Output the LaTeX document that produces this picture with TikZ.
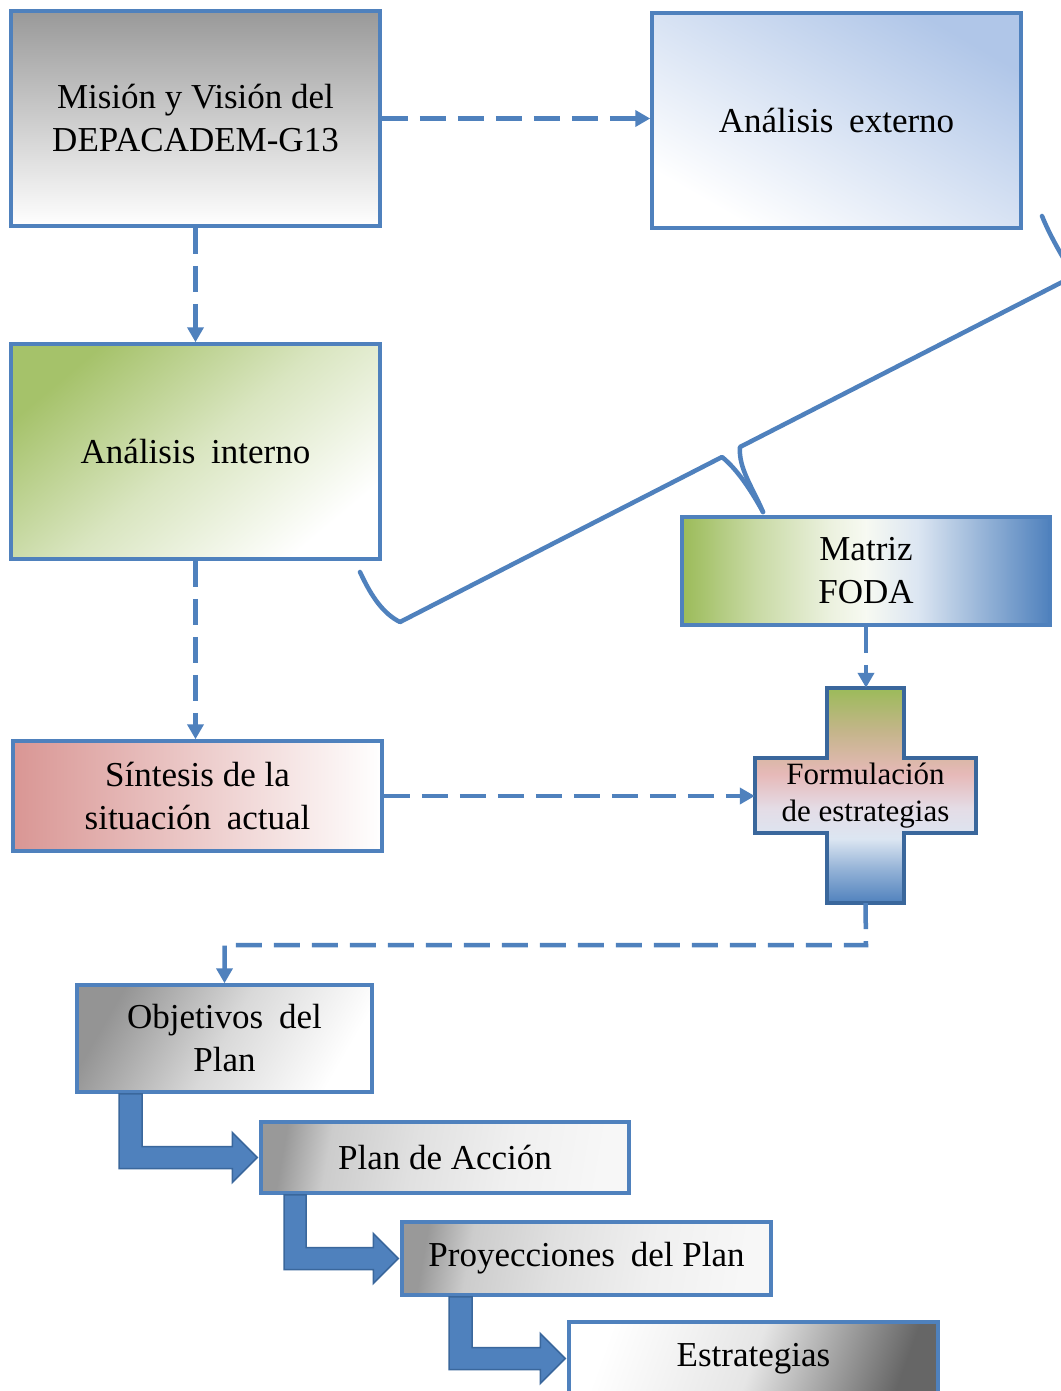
\documentclass[tikz,border=0pt]{standalone}
\usepackage{fontspec}
\setmainfont{LiberationSerif-Regular.ttf}
\usetikzlibrary{arrows.meta,calc}
\definecolor{bl}{HTML}{4F81BD}
\definecolor{bldark}{HTML}{3A679C}
\definecolor{gr}{HTML}{9BBB59}
\definecolor{grl}{HTML}{EBF1DE}
\definecolor{bll}{HTML}{DCE6F2}
\definecolor{blm}{HTML}{95B3D7}
\definecolor{pk}{HTML}{E6B9B8}
\definecolor{rd}{HTML}{D99694}
\definecolor{lav}{HTML}{E4DCE6}
\definecolor{tan}{HTML}{C4B58A}
\definecolor{extb}{HTML}{B0C6E8}
\pgfdeclarehorizontalshading{fodashade}{100bp}{color(0bp)=(gr); color(25bp)=(gr); color(35bp)=(gr!55!white); color(45bp)=(grl); color(50bp)=(white!92!gr); color(57bp)=(bll); color(66bp)=(blm); color(75bp)=(bl); color(100bp)=(bl)}
\pgfdeclareverticalshading{crossshade}{100bp}{color(0bp)=(bl); color(25bp)=(bl); color(33bp)=(blm); color(40bp)=(bll); color(47bp)=(lav); color(55bp)=(pk); color(65bp)=(tan); color(75bp)=(gr); color(100bp)=(gr)}
\pgfdeclarehorizontalshading{stepshade}{100bp}{color(0bp)=(black!40); color(25bp)=(black!40); color(32bp)=(black!20); color(45bp)=(black!12); color(60bp)=(black!6); color(75bp)=(black!3); color(100bp)=(black!3)}
\tikzset{
  box/.style={rectangle, draw=bl, line width=3.5pt, inner sep=0pt, align=center,
    text=black, font=\fontsize{35}{43}\selectfont},
  ghost/.style={rectangle, inner sep=0pt},
  dasharrow/.style={draw=bl, line width=4.5pt, dash pattern=on 26pt off 12pt,
    -{Triangle[length=15pt,width=16pt]}},
  bentstyle/.style={fill=bl, draw=bldark, line width=1.5pt, line join=miter},
  bracestyle/.style={draw=bl, line width=4.5pt, line join=round, line cap=round}
}
\newcommand\bentarr[4]{%
  \path[bentstyle] let \p1=(#1.south), \p2=(#2.west) in
    (#3pt,\y1) -- (#4pt,\y1) -- (#4pt,\y2+11pt) -- (\x2-27pt,\y2+11pt)
    -- (\x2-27pt,\y2+25pt) -- (\x2-2pt,\y2) -- (\x2-27pt,\y2-25pt)
    -- (\x2-27pt,\y2-11pt) -- (#3pt,\y2-11pt) -- cycle;}
\newcommand\wsp{\hspace{0.45em}}
\begin{document}
\begin{tikzpicture}[x=1pt,y=-1pt]
\useasboundingbox (0,0) rectangle (1060,1391);
\fill[white] (0,0) rectangle (1060,1391);

% boxes
\node[box, minimum width=369pt, minimum height=215pt,
  top color=black!40, bottom color=white] (mision) at (195.5,118.5)
  {Misión y Visión del\\DEPACADEM-G13};
\node[box, minimum width=369pt, minimum height=215pt,
  top color=extb, bottom color=white, middle color=extb!50!white, shading angle=-30] (externo) at (836.5,120.5)
  {Análisis\wsp externo};
\node[box, minimum width=369pt, minimum height=215pt,
  top color=gr!90!white, bottom color=white, middle color=gr!38!white, shading angle=40] (interno) at (195.5,451.5)
  {Análisis\wsp interno};
\node[box, minimum width=368pt, minimum height=108pt,
  shading=fodashade] (foda) at (866,571) {Matriz\\FODA};
\node[box, minimum width=369pt, minimum height=110pt,
  left color=rd, right color=white] (sintesis) at (197.5,796)
  {Síntesis de la\\situación\wsp actual};

% cross
\node[ghost, minimum width=77pt, minimum height=215pt] (crossv) at (865.5,795.5) {};
\node[ghost, minimum width=221pt, minimum height=75pt] (crossh) at (865.5,795.5) {};
\path[shading=crossshade, shade, draw=bldark, line width=3.5pt, line join=miter]
  (crossv.north west) -- (crossv.north east) -- (crossv.east |- crossh.north)
  -- (crossh.north east) -- (crossh.south east) -- (crossv.east |- crossh.south)
  -- (crossv.south east) -- (crossv.south west) -- (crossv.west |- crossh.south)
  -- (crossh.south west) -- (crossh.north west) -- (crossv.west |- crossh.north) -- cycle;
\node[align=center, inner sep=0pt, font=\fontsize{31}{37}\selectfont] (cross) at (865.5,795.5)
  {Formulación\\de estrategias};

\node[box, minimum width=295pt, minimum height=107pt,
  top color=black!42, bottom color=white, middle color=black!15, shading angle=60] (objetivos) at (224.5,1038.5)
  {Objetivos\wsp del\\Plan};
\node[box, minimum width=368pt, minimum height=71pt,
  shading=stepshade, shading angle=-10] (plan) at (445,1157.5)
  {Plan de Acción};
\node[box, minimum width=369pt, minimum height=73pt,
  shading=stepshade, shading angle=-10] (proy) at (586.5,1258.5)
  {Proyecciones\wsp del Plan};
\node[box, minimum width=369pt, minimum height=73pt,
  top color=black!60, bottom color=white, middle color=black!10, shading angle=-110] (estr) at (753.5,1358.5)
  {Estrategias};

% dashed connectors
\coordinate (turn) at (866,945);
\draw[dasharrow] (mision.east) -- (mision.east -| externo.west);
\draw[dasharrow] (mision.south) -- (interno.north);
\draw[dasharrow] (interno.south) -- (interno.south |- sintesis.north);
\draw[dasharrow] (sintesis.east) -- (sintesis.east -| crossh.west);
\draw[dasharrow] (foda.south) -- (foda.south |- crossv.north);
\draw[dasharrow] (crossv.south) -- (turn) -| (objetivos.north);

% brace
\draw[bracestyle] (360,572) .. controls (372,598) and (384,614) .. (400,622)
  -- (722,457) .. controls (738,470) and (752,492) .. (763,512);
\draw[bracestyle] (763,512) .. controls (754,490) and (738,468) .. (740,447)
  -- (1074,276) .. controls (1062,256) and (1050,236) .. (1042,216);

% bent arrows
\bentarr{objetivos}{plan}{119}{142}
\bentarr{plan}{proy}{284}{306}
\bentarr{proy}{estr}{449}{472}
\end{tikzpicture}
\end{document}
